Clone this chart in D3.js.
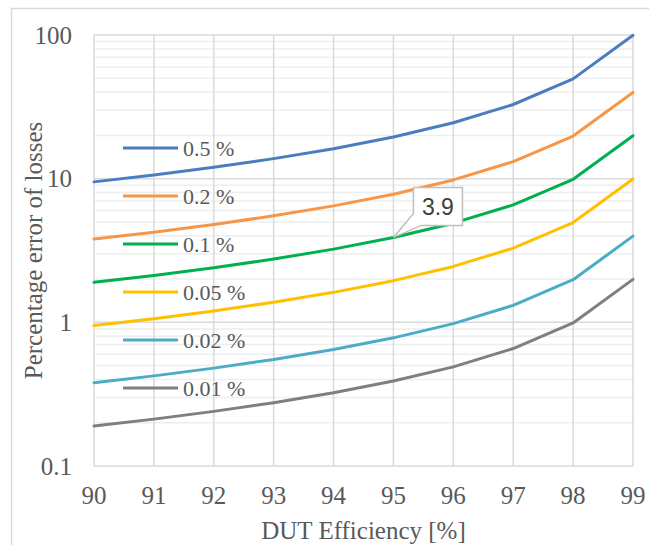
<!DOCTYPE html>
<html><head><meta charset="utf-8">
<script src="https://cdn.jsdelivr.net/npm/d3@7"></script>
<style>html,body{margin:0;padding:0;background:#fff;}</style>
</head><body>
<svg id="chart" width="649" height="545"></svg>
<script>
const efficiencies = [90, 91, 92, 93, 94, 95, 96, 97, 98, 99];
const seriesNames = ["0.5 %", "0.2 %", "0.1 %", "0.05 %", "0.02 %", "0.01 %"];
const s05  = [9.5, 10.61, 12.0, 13.79, 16.17, 19.5, 24.5, 32.83, 49.5, 99.5];
const s02  = [3.8, 4.244, 4.8, 5.514, 6.467, 7.8, 9.8, 13.13, 19.8, 39.8];
const s01  = [1.9, 2.122, 2.4, 2.757, 3.233, 3.9, 4.9, 6.567, 9.9, 19.9];
const s005 = [0.95, 1.061, 1.2, 1.379, 1.617, 1.95, 2.45, 3.283, 4.95, 9.95];
const s002 = [0.38, 0.424, 0.48, 0.551, 0.647, 0.78, 0.98, 1.313, 1.98, 3.98];
const s001 = [0.19, 0.212, 0.24, 0.276, 0.323, 0.39, 0.49, 0.657, 0.99, 1.99];
const yTickLabels = ["0.1", "1", "10", "100"];
const colors = ["#4A7DC0", "#F79646", "#00B050", "#FFC000", "#4BACC6", "#7F7F7F"];
const calloutText = "3.9";
const calloutSeries = 2, calloutIndex = 5;

const allSeries = [s05, s02, s01, s005, s002, s001];
const svg = d3.select("#chart");
const m = {left: 94, right: 633, top: 35, bottom: 466};
const x = d3.scaleLinear().domain([90, 99]).range([m.left, m.right]);
const y = d3.scaleLog().domain([0.1, 100]).range([m.bottom, m.top]);

// outer border
svg.append("rect").attr("x", 11.5).attr("y", 8.5).attr("width", 700).attr("height", 600)
  .attr("fill", "none").attr("stroke", "#d9d9d9").attr("stroke-width", 1.5);

// minor gridlines
const minor = [];
[0.1, 1, 10].forEach(d => { for (let k = 2; k <= 9; k++) minor.push(d * k); });
svg.append("g").selectAll("line").data(minor).join("line")
  .attr("x1", m.left).attr("x2", m.right)
  .attr("y1", d => y(d)).attr("y2", d => y(d))
  .attr("stroke", "#eeeeee").attr("stroke-width", 1.5);

// major gridlines
const major = yTickLabels.map(Number);
svg.append("g").selectAll("line").data(major).join("line")
  .attr("x1", m.left).attr("x2", m.right)
  .attr("y1", d => y(d)).attr("y2", d => y(d))
  .attr("stroke", "#d9d9d9").attr("stroke-width", 1.5);
svg.append("g").selectAll("line").data(efficiencies).join("line")
  .attr("x1", d => x(d)).attr("x2", d => x(d))
  .attr("y1", m.top).attr("y2", m.bottom)
  .attr("stroke", "#d9d9d9").attr("stroke-width", 1.5);

// tick labels
const font = "'Liberation Serif', 'Times New Roman', serif";
svg.append("g").selectAll("text").data(yTickLabels).join("text")
  .attr("x", 72).attr("y", d => y(+d)).attr("dy", "0.35em")
  .attr("text-anchor", "end").attr("font-family", font).attr("font-size", 25)
  .attr("fill", "#595959").text(d => d);
svg.append("g").selectAll("text").data(efficiencies).join("text")
  .attr("x", d => x(d)).attr("y", 495).attr("dy", "0.35em")
  .attr("text-anchor", "middle").attr("font-family", font).attr("font-size", 25)
  .attr("fill", "#595959").text(d => d);

// axis titles
svg.append("text").attr("x", (m.left + m.right) / 2).attr("y", 530).attr("dy", "0.35em")
  .attr("text-anchor", "middle").attr("font-family", font).attr("font-size", 25)
  .attr("fill", "#595959").text("DUT Efficiency [%]");
svg.append("text").attr("transform", `translate(33,${(m.top + m.bottom) / 2}) rotate(-90)`)
  .attr("dy", "0.35em").attr("text-anchor", "middle").attr("font-family", font).attr("font-size", 25)
  .attr("fill", "#595959").text("Percentage error of losses");

// lines
const line = d3.line().x((d, i) => x(efficiencies[i])).y(d => y(d));
svg.append("g").selectAll("path").data(allSeries).join("path")
  .attr("d", d => line(d)).attr("fill", "none")
  .attr("stroke", (d, i) => colors[i]).attr("stroke-width", 3)
  .attr("stroke-linejoin", "round").attr("stroke-linecap", "round");

// legend
const lg = svg.append("g").selectAll("g").data(seriesNames).join("g")
  .attr("transform", (d, i) => `translate(123,${148 + i * 48})`);
lg.append("line").attr("x1", 0).attr("x2", 55).attr("y1", 0).attr("y2", 0)
  .attr("stroke", (d, i) => colors[i]).attr("stroke-width", 3);
lg.append("text").attr("x", 60).attr("y", 0).attr("dy", "0.35em")
  .attr("font-family", font).attr("font-size", 22).attr("fill", "#595959").text(d => d);

// callout
const px = x(efficiencies[calloutIndex]), py = y(allSeries[calloutSeries][calloutIndex]);
const bl = px + 20, bt = py - 50, br = px + 69, bb = py - 12;
svg.append("path")
  .attr("d", `M${bl},${bt}H${br}V${bb}H${px + 28}L${px},${py}L${bl},${py - 24}Z`)
  .attr("fill", "#fff").attr("stroke", "#bfbfbf").attr("stroke-width", 1.5);
svg.append("text").attr("x", (bl + br) / 2).attr("y", (bt + bb) / 2).attr("dy", "0.36em")
  .attr("text-anchor", "middle").attr("font-family", "'Liberation Sans', Arial, sans-serif")
  .attr("font-size", 23).attr("fill", "#404040").text(calloutText);
</script>
</body></html>
